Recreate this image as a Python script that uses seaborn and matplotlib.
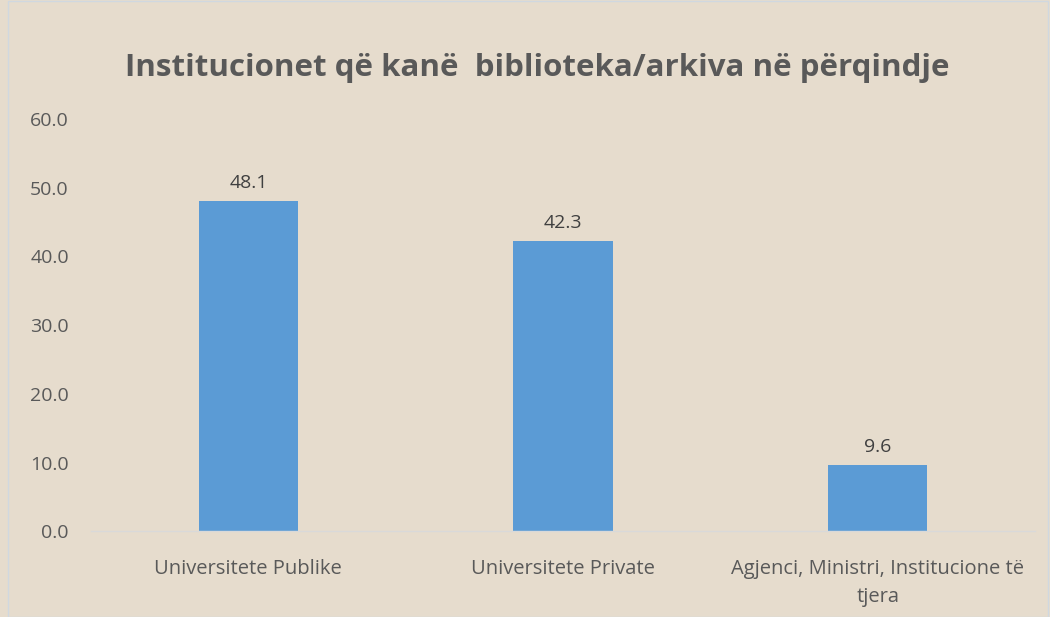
import matplotlib
matplotlib.use("Agg")
import matplotlib.pyplot as plt
import seaborn as sns
import pandas as pd

categories = ["Universitete Publike", "Universitete Private", "Agjenci, Ministri, Institucione të\ntjera"]
values = [48.1, 42.3, 9.6]
yticks = [0, 10, 20, 30, 40, 50, 60]

sns.set_theme(style="white")
plt.rcParams['font.family'] = ['Open Sans', 'DejaVu Sans']

bg = "#e6dccd"
txt = "#595959"

df = pd.DataFrame({"cat": categories, "val": values})

fig = plt.figure(figsize=(10.5, 6.17), dpi=100)
fig.patch.set_facecolor(bg)
ax = fig.add_axes([0.0867, 0.139, 0.899, 0.668])
ax.set_facecolor(bg)

sns.barplot(data=df, x="cat", y="val", color="#5b9bd5", width=0.315,
            saturation=1, edgecolor="none", linewidth=0, ax=ax)

for i, v in enumerate(values):
    ax.text(i, v + 1.3, f"{v:.1f}", ha="center", va="bottom", fontsize=14, color="#404040")

ax.set_ylim(0, 60)
ax.set_xlim(-0.5, 2.5)
ax.set_yticks(yticks)
ax.set_yticklabels([f"{t:.1f}" for t in yticks], fontsize=14, color=txt)
ax.tick_params(axis="y", length=0, pad=16)
ax.tick_params(axis="x", length=0, pad=20, labelsize=14.5, labelcolor=txt)
for lab in ax.get_xticklabels():
    lab.set_linespacing(1.55)
ax.set_xlabel("")
ax.set_ylabel("")
for s in ["top", "right", "left"]:
    ax.spines[s].set_visible(False)
ax.spines["bottom"].set_color("#d9d9d9")
ax.spines["bottom"].set_linewidth(1)

fig.text(0.512, 0.89, "Institucionet që kanë  biblioteka/arkiva në përqindje",
         ha="center", va="center", fontsize=22.5, fontweight="bold", color=txt)

border = plt.Rectangle((0.008, 0.0), 0.99, 0.998, transform=fig.transFigure,
                       fill=False, edgecolor="#d0d8e0", linewidth=1)
fig.patches.append(border)

fig.savefig("out.png", dpi=100, facecolor=bg)
